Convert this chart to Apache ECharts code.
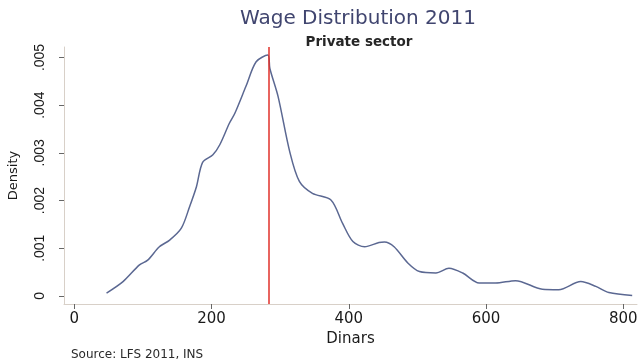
<!DOCTYPE html>
<html>
<head>
<meta charset="utf-8">
<script src="https://cdn.jsdelivr.net/npm/echarts@6/dist/echarts.min.js"></script>
<style>html,body{margin:0;padding:0;background:#fff}#c{width:641px;height:359px}</style>
</head>
<body>
<div id="c"></div>
<script>
var wages = [47, 71, 95, 107, 124, 139, 156, 168, 178, 187, 202, 212, 226, 234, 250, 265, 282, 285, 297, 314, 328, 347, 374, 391, 406, 423, 444, 452, 466, 486, 503, 527, 546, 566, 590, 614, 643, 682, 706, 738, 760, 779, 813];
var density = [0.00006, 0.0003, 0.00065, 0.00075, 0.00103, 0.00117, 0.00142, 0.00187, 0.00229, 0.0028, 0.00296, 0.00317, 0.00362, 0.00383, 0.00439, 0.00491, 0.00505, 0.00477, 0.00418, 0.00302, 0.0024, 0.00215, 0.00201, 0.00152, 0.00114, 0.00103, 0.00112, 0.00113, 0.00103, 0.00069, 0.00051, 0.00048, 0.00058, 0.00048, 0.00027, 0.00027, 0.00032, 0.00014, 0.00013, 0.0003, 0.0002, 0.00007, 0.00001];
var xTicks = [0, 200, 400, 600, 800];
var yTicks = [0, 0.001, 0.002, 0.003, 0.004, 0.005];
var medianWage = 284;

var chart = echarts.init(document.getElementById('c'));
var wide = 'DejaVu Sans, sans-serif';
var narrow = 'Liberation Sans, Arial, sans-serif';
chart.setOption({
  animation: false,
  title: [
    {text: 'Wage Distribution 2011', left: 353, top: 4, textAlign: 'center',
     textStyle: {fontFamily: wide, fontSize: 20, fontWeight: 'normal', color: '#40456f'}},
    {text: 'Private sector', left: 354, top: 30, textAlign: 'center',
     textStyle: {fontFamily: wide, fontSize: 13.5, fontWeight: 'bold', color: '#262626'}},
    {text: 'Source: LFS 2011, INS', left: 66, top: 344,
     textStyle: {fontFamily: wide, fontSize: 12, fontWeight: 'normal', color: '#2a2a2a'}}
  ],
  grid: {left: 64, right: 4, top: 47, bottom: 55, containLabel: false, outerBoundsMode: 'none'},
  xAxis: {
    type: 'value', min: -15, max: 820,
    name: 'Dinars', nameLocation: 'middle', nameGap: 27,
    nameTextStyle: {fontFamily: wide, fontSize: 15, color: '#1a1a1a'},
    axisLine: {show: true, onZero: false, lineStyle: {color: '#d8d0c8', width: 1}},
    axisTick: {show: true, customValues: xTicks, length: 5, lineStyle: {color: '#666'}},
    axisLabel: {customValues: xTicks, fontFamily: wide, fontSize: 15, color: '#1a1a1a', margin: 8},
    splitLine: {show: false}
  },
  yAxis: {
    type: 'value', min: -0.00017, max: 0.00522,
    name: 'Density', nameLocation: 'middle', nameGap: 44, nameRotate: 90,
    nameTextStyle: {fontFamily: wide, fontSize: 13, color: '#1a1a1a'},
    axisLine: {show: true, onZero: false, lineStyle: {color: '#d8d0c8', width: 1}},
    axisTick: {show: true, customValues: yTicks, length: 5, lineStyle: {color: '#666'}},
    axisLabel: {customValues: yTicks, rotate: 90, fontFamily: narrow, fontSize: 14, color: '#1a1a1a', margin: 17,
      formatter: function (v) { return v === 0 ? '0' : String(+v.toFixed(3)).replace(/^0/, ''); }},
    splitLine: {show: false}
  },
  series: [{
    type: 'line', smooth: 0.3, symbol: 'none',
    data: wages.map(function (w, i) { return [w, density[i]]; }),
    lineStyle: {color: '#5b6892', width: 1.5},
    markLine: {
      silent: true, symbol: 'none', label: {show: false},
      lineStyle: {color: '#e0302a', width: 1.5, type: 'solid'},
      data: [{xAxis: medianWage}]
    }
  }]
});
</script>
</body>
</html>
